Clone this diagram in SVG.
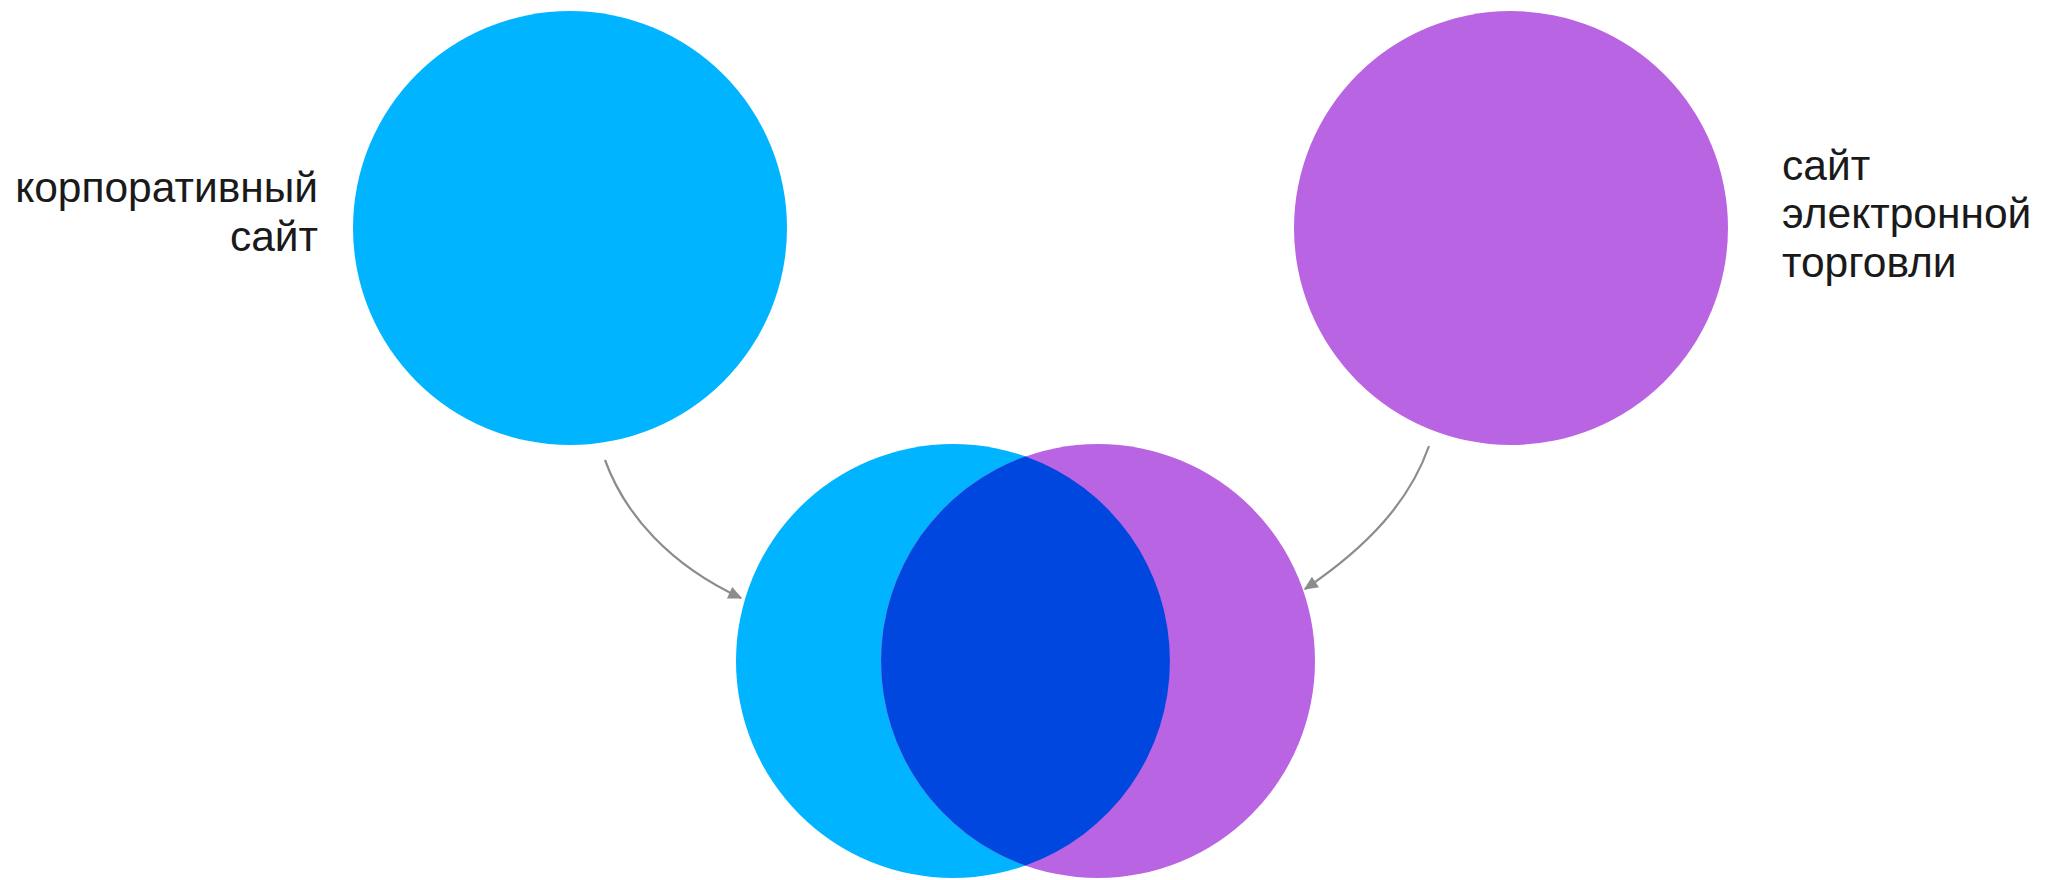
<svg xmlns="http://www.w3.org/2000/svg" width="2058" height="880" viewBox="0 0 2058 880">
  <style>
    .lbl { font-family: "Liberation Sans", Arial, sans-serif; font-size: 42.5px; fill: #1a1a1a; }
    .cyan { fill: #00B4FF; }
    .purple { fill: #B964E2; }
    .both { fill: #0047E0; }
    .conn { fill: none; stroke: #8c8c8c; stroke-width: 2.2; }
  </style>
  <defs>
    <marker id="arrow" viewBox="0 0 10 10" refX="9" refY="5" markerWidth="16" markerHeight="14" markerUnits="userSpaceOnUse" orient="auto">
      <path d="M0,0.5 L10,5 L0,9.5 Z" fill="#8c8c8c"/>
    </marker>
  </defs>
  <rect width="2058" height="880" fill="#ffffff"/>
  <g id="corporate">
    <circle class="cyan" cx="570" cy="228" r="217"/>
    <text class="lbl" text-anchor="end"><tspan x="318" y="202">корпоративный</tspan><tspan x="318" y="251">сайт</tspan></text>
  </g>
  <g id="ecommerce">
    <circle class="purple" cx="1511" cy="228" r="217"/>
    <text class="lbl"><tspan x="1782" y="180">сайт</tspan><tspan x="1782" y="228">электронной</tspan><tspan x="1782" y="277">торговли</tspan></text>
  </g>
  <g id="combined">
    <circle class="cyan" cx="953" cy="661" r="217"/>
    <circle class="purple" cx="1098" cy="661" r="217"/>
    <path class="both" d="M1025.5,456.5 A217,217 0 0,1 1025.5,865.5 A217,217 0 0,1 1025.5,456.5 Z"/>
  </g>
  <g id="connectors">
    <path class="conn" d="M605,460 C625,515 670,565 741,598" marker-end="url(#arrow)"/>
    <path class="conn" d="M1429,446 C1410,500 1370,545 1305,589" marker-end="url(#arrow)"/>
  </g>
</svg>
